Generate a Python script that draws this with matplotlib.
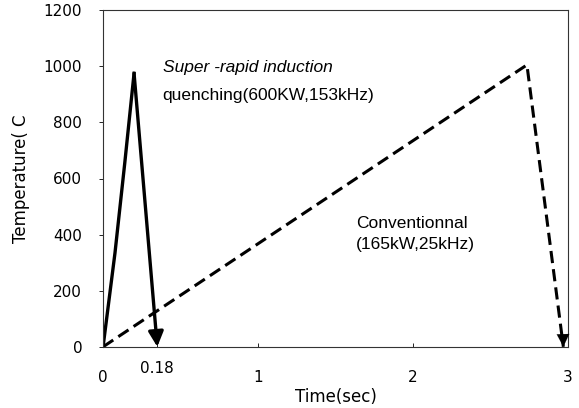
import matplotlib
matplotlib.use("Agg")
import matplotlib.pyplot as plt
from matplotlib.transforms import ScaledTranslation

# Данные
rapid_t = [0.0, 0.077, 0.14, 0.20, 0.35]
rapid_temp = [0, 335, 655, 975, 0]
conv_t = [0.0, 2.735, 2.97]
conv_temp = [0, 1005, 0]

xtick_pos = [0, 0.35, 1, 2, 3]
xtick_labels = ["0", "0.18", "1", "2", "3"]
yticks = [0, 200, 400, 600, 800, 1000, 1200]

plt.rcParams["font.family"] = ["DejaVu Sans"]

fig = plt.figure(figsize=(5.79, 4.08), dpi=100)
ax = fig.add_axes([0.178, 0.150, 0.803, 0.825])

# Сплошная линия (сверхбыстрая индукционная закалка)
ax.plot(rapid_t[:-1], rapid_temp[:-1], color="black", lw=2.4, solid_joinstyle="miter")
ax.annotate("", xy=(rapid_t[-1], rapid_temp[-1]), xytext=(rapid_t[-2], rapid_temp[-2]),
            arrowprops=dict(arrowstyle="-|>,head_length=0.9,head_width=0.45",
                            color="black", lw=2.4, shrinkA=0, shrinkB=0))

# Пунктир (обычная закалка)
ax.plot(conv_t, conv_temp, color="black", lw=2.2, dashes=(4, 2))
ax.annotate("", xy=(conv_t[-1], conv_temp[-1]),
            xytext=(conv_t[-1] - 0.002, conv_temp[-1] + 40),
            arrowprops=dict(arrowstyle="-|>,head_length=0.9,head_width=0.45",
                            color="black", lw=0.1, shrinkA=0, shrinkB=0))

ax.set_xlim(0, 3.0)
ax.set_ylim(0, 1200)
ax.set_xticks(xtick_pos)
ax.set_xticklabels(xtick_labels, fontsize=11)
ax.set_yticks(yticks)
ax.set_yticklabels([str(v) for v in yticks], fontsize=11)
ax.tick_params(axis="y", direction="out", length=3, width=0.6, pad=12)
ax.tick_params(axis="x", direction="in", length=3, width=0.6, pad=17)
for s in ax.spines.values():
    s.set_linewidth(0.8)
    s.set_color("#333333")

# подпись 0.18 на рисунке стоит выше остальных
lbl = ax.get_xticklabels()[1]
lbl.set_transform(lbl.get_transform() + ScaledTranslation(0, 7 / 72, fig.dpi_scale_trans))

ax.set_xlabel("Time(sec)", fontsize=12, labelpad=2)
ax.set_ylabel("Temperature( C", fontsize=12, labelpad=10)

ax.text(0.385, 997, "Super -rapid induction", fontsize=12.5, style="italic", va="center",
        family="Liberation Sans")
ax.text(0.385, 897, "quenching(600KW,153kHz)", fontsize=12.5, va="center",
        family="Liberation Sans")
ax.text(1.63, 438, "Conventionnal", fontsize=12.5, va="center", family="Liberation Sans")
ax.text(1.63, 365, "(165kW,25kHz)", fontsize=12.5, va="center", family="Liberation Sans")

fig.savefig("out.png", dpi=100)
